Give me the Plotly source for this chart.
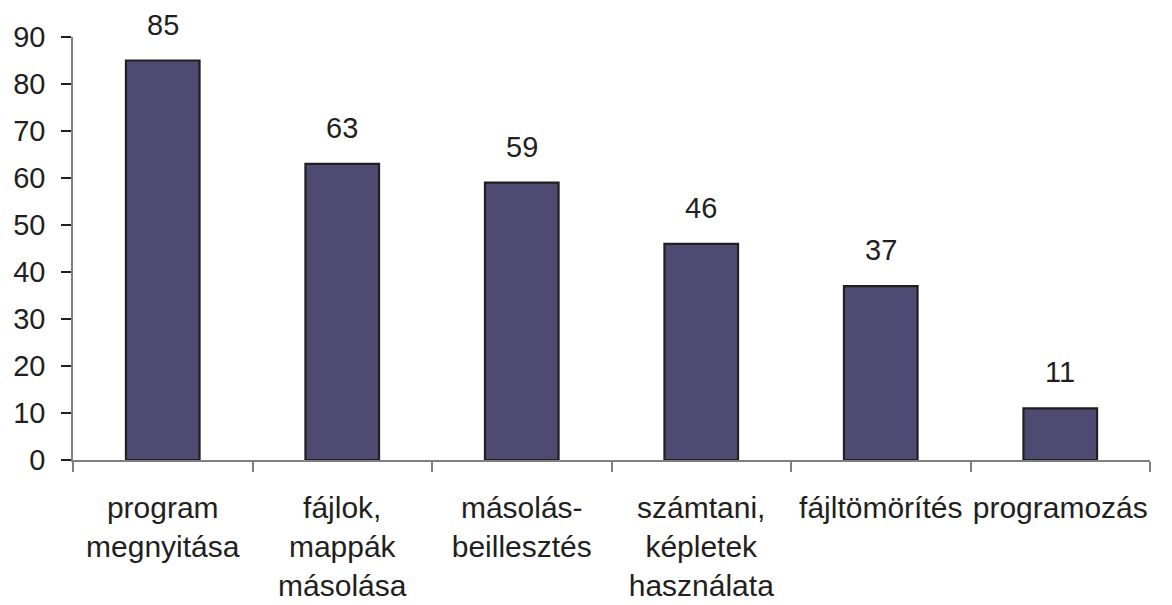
import plotly.graph_objects as go

# tasks and the number of answers
categories = ['program<br>megnyitása', 'fájlok,<br>mappák<br>másolása', 'másolás-<br>beillesztés',
              'számtani,<br>képletek<br>használata', 'fájltömörítés', 'programozás']
values = [85, 63, 59, 46, 37, 11]
y_ticks = [0, 10, 20, 30, 40, 50, 60, 70, 80, 90]

font = dict(family='Liberation Sans, Arial, sans-serif', size=29, color='#231f20')

fig = go.Figure()
fig.add_trace(go.Bar(x=categories, y=values,
                     marker=dict(color='#4f4a72', line=dict(color='#231f20', width=2.2)),
                     width=0.41))

# value labels above bars
for c, v in zip(categories, values):
    fig.add_annotation(x=c, y=v, text=str(v), showarrow=False,
                       yanchor='bottom', yshift=18, font=font)

# page has an 8px body margin, so the figure is a bit smaller
fig.update_layout(
    width=1164, height=597,
    margin=dict(l=65, r=22, t=29, b=145, autoexpand=False),
    plot_bgcolor='white', paper_bgcolor='white',
    font=font, showlegend=False,
    xaxis=dict(showline=True, linecolor='#808080', linewidth=1.5, tickangle=0, automargin=False,
               ticks='outside', tickson='boundaries', ticklen=10, tickcolor='#808080',
               tickwidth=1.5, showgrid=False, ticklabelstandoff=20,
               tickfont=dict(size=30)),
    yaxis=dict(range=[0, 90], tickvals=y_ticks, showline=True, linecolor='#808080',
               linewidth=1.5, ticks='outside', ticklen=10, tickcolor='#231f20', automargin=False,
               tickwidth=1.5, showgrid=False, zeroline=False, ticklabelstandoff=10),
)

fig.write_html('out.html')
